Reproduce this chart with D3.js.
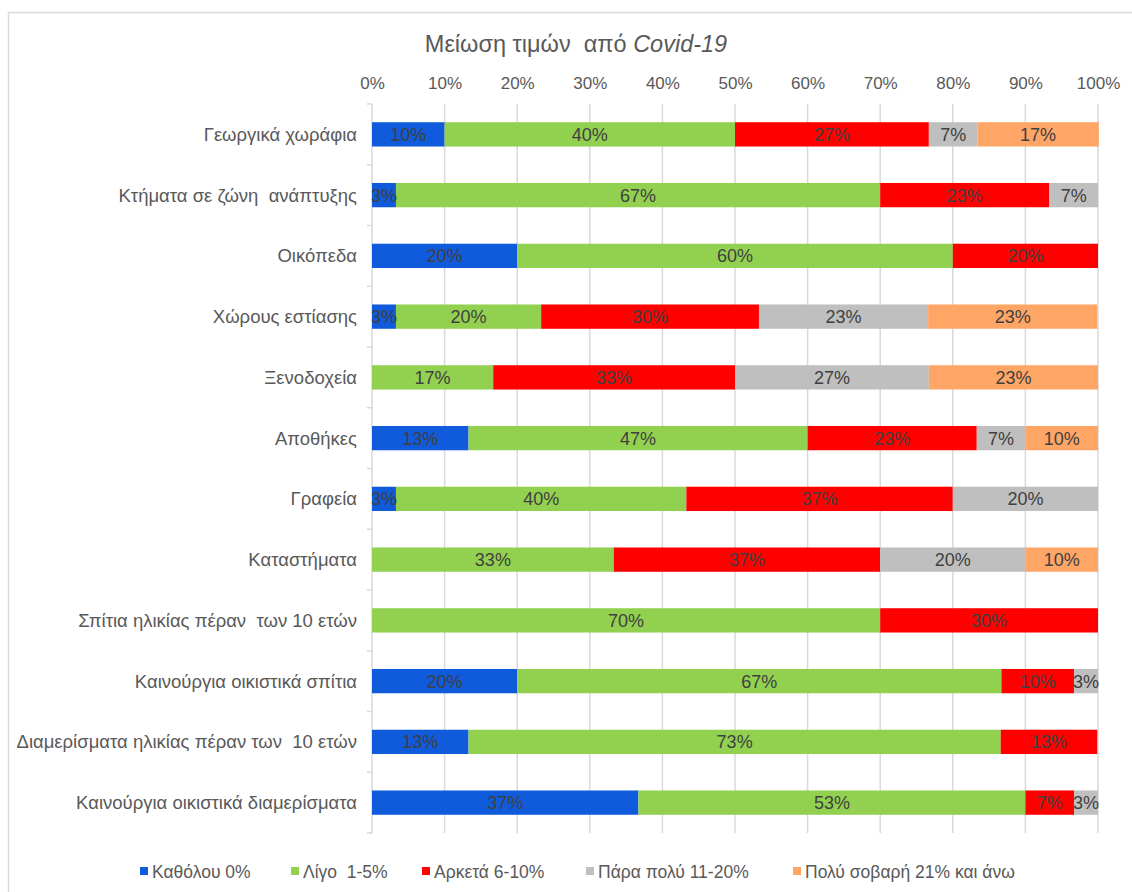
<!DOCTYPE html>
<html>
<head>
<meta charset="utf-8">
<script src="https://cdn.jsdelivr.net/npm/d3@7"></script>
<style>
  body { margin: 0; background: #fff; }
  svg { font-family: "Liberation Sans", Arial, sans-serif; }
</style>
</head>
<body>
<svg id="chart"></svg>
<script>
const categories = [
  'Γεωργικά χωράφια',
  'Κτήματα σε ζώνη  ανάπτυξης',
  'Οικόπεδα',
  'Χώρους εστίασης',
  'Ξενοδοχεία',
  'Αποθήκες',
  'Γραφεία',
  'Καταστήματα',
  'Σπίτια ηλικίας πέραν  των 10 ετών',
  'Καινούργια οικιστικά σπίτια',
  'Διαμερίσματα ηλικίας πέραν των  10 ετών',
  'Καινούργια οικιστικά διαμερίσματα'
];
const seriesNames = ['Καθόλου 0%', 'Λίγο  1-5%', 'Αρκετά 6-10%', 'Πάρα πολύ 11-20%', 'Πολύ σοβαρή 21% και άνω'];
const seriesColors = ['#0f5bdc', '#92d050', '#ff0000', '#bfbfbf', '#ffa566'];

// percentages per category, one array per series
const katholou = [10, 3.3, 20, 3.3, 0, 13.3, 3.3, 0, 0, 20, 13.3, 36.7];
const ligo = [40, 66.7, 60, 20, 16.7, 46.7, 40, 33.3, 70, 66.7, 73.3, 53.3];
const arketa = [26.7, 23.3, 20, 30, 33.3, 23.3, 36.7, 36.7, 30, 10, 13.3, 6.7];
const parapoly = [6.7, 6.7, 0, 23.3, 26.7, 6.7, 20, 20, 0, 3.3, 0, 3.3];
const polysovari = [16.7, 0, 0, 23.3, 23.3, 10, 0, 10, 0, 0, 0, 0];
const xTicks = [0, 10, 20, 30, 40, 50, 60, 70, 80, 90, 100];

const w = 1132;
const h = 892;
const svg = d3.select('#chart').attr('width', w).attr('height', h);

const plotLeft = 372;
const plotRight = 1098;
const plotTop = 104;
const plotBottom = 833;

// frame
svg.append('rect')
  .attr('x', 8.5).attr('y', 12.5)
  .attr('width', 1200).attr('height', 1000)
  .attr('fill', 'none').attr('stroke', '#d9d9d9').attr('stroke-width', 1.5);

const rows = categories.map((c, i) => ({
  cat: c,
  values: [katholou[i], ligo[i], arketa[i], parapoly[i], polysovari[i]]
}));

const xScale = d3.scaleLinear().domain([0, 100]).range([plotLeft, plotRight]);
const yScale = d3.scaleBand().domain(categories).range([plotTop, plotBottom])
  .paddingInner(0.6).paddingOuter(0.3);

// gridlines
svg.append('g').selectAll('line').data(xTicks.slice(1)).enter().append('line')
  .attr('x1', (d) => xScale(d)).attr('x2', (d) => xScale(d))
  .attr('y1', plotTop).attr('y2', plotBottom)
  .attr('stroke', '#d9d9d9').attr('stroke-width', 1.5);

// top axis labels
const xAxis = d3.axisTop(xScale).tickValues(xTicks).tickSize(0).tickPadding(0)
  .tickFormat((d) => d + '%');
svg.append('g').attr('transform', 'translate(0,89)').call(xAxis)
  .call((g) => g.select('.domain').remove())
  .selectAll('text')
  .attr('dy', 0)
  .attr('font-size', 17).attr('fill', '#595959')
  .attr('font-family', '"Liberation Sans", Arial, sans-serif');

// y axis line and ticks at band boundaries
const step = yScale.step();
const bounds = categories.map((c) => yScale(c) - step * 0.3).concat([plotBottom]);
svg.append('line')
  .attr('x1', plotLeft).attr('x2', plotLeft).attr('y1', plotTop).attr('y2', plotBottom)
  .attr('stroke', '#d9d9d9').attr('stroke-width', 1.5);
svg.append('g').selectAll('line').data(bounds).enter().append('line')
  .attr('x1', plotLeft - 5).attr('x2', plotLeft)
  .attr('y1', (d) => d).attr('y2', (d) => d)
  .attr('stroke', '#d9d9d9').attr('stroke-width', 1.5);

// category labels
svg.append('g').selectAll('text').data(categories).enter().append('text')
  .attr('x', 357)
  .attr('y', (d) => yScale(d) + yScale.bandwidth() / 2 + 6.5)
  .attr('text-anchor', 'end')
  .attr('font-size', 18.5).attr('fill', '#595959')
  .style('white-space', 'pre')
  .text((d) => d);

// stacked bars
const segs = [];
rows.forEach((r) => {
  let acc = 0;
  r.values.forEach((v, k) => {
    segs.push({ cat: r.cat, k: k, x0: acc, x1: acc + v, v: v });
    acc += v;
  });
});
const shown = segs.filter((s) => s.v > 0);

svg.append('g').selectAll('rect').data(shown).enter().append('rect')
  .attr('x', (d) => xScale(d.x0))
  .attr('width', (d) => xScale(d.x1) - xScale(d.x0))
  .attr('y', (d) => yScale(d.cat))
  .attr('height', yScale.bandwidth())
  .attr('fill', (d) => seriesColors[d.k]);

svg.append('g').selectAll('text').data(shown).enter().append('text')
  .attr('x', (d) => xScale((d.x0 + d.x1) / 2))
  .attr('y', (d) => yScale(d.cat) + yScale.bandwidth() / 2 + 6.5)
  .attr('text-anchor', 'middle')
  .attr('font-size', 18).attr('fill', '#404040')
  .text((d) => Math.round(d.v) + '%');

// title
const title = svg.append('text')
  .attr('x', 576).attr('y', 52)
  .attr('text-anchor', 'middle')
  .attr('font-size', 23.5).attr('fill', '#595959');
title.append('tspan').text('Μείωση τιμών  από ');
title.append('tspan').attr('font-style', 'italic').text('Covid-19');
title.style('white-space', 'pre');

// legend
const legendX = [140, 291, 422, 586, 793];
const legend = svg.append('g').selectAll('g').data(seriesNames).enter().append('g')
  .attr('transform', (d, i) => `translate(${legendX[i]},0)`);
legend.append('rect')
  .attr('x', 0).attr('y', 867).attr('width', 8).attr('height', 8)
  .attr('fill', (d, i) => seriesColors[i]);
legend.append('text')
  .attr('x', 12).attr('y', 878)
  .attr('font-size', 17.5).attr('fill', '#595959')
  .style('white-space', 'pre')
  .text((d) => d);
</script>
</body>
</html>
